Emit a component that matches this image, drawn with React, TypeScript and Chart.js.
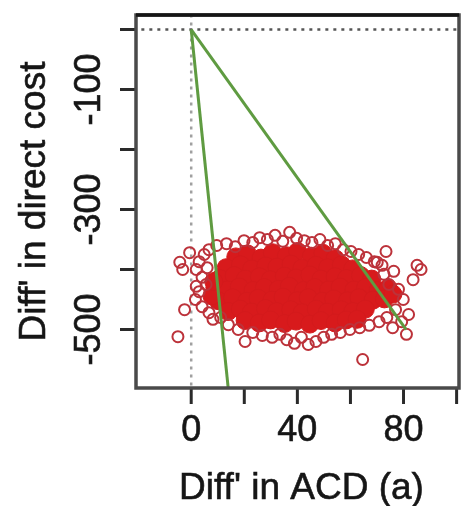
import React, { useEffect, useRef } from "react";
import { Chart, registerables } from "chart.js";

Chart.register(...registerables);

// ---- axis definitions ----
const xTicks = [0, 20, 40, 60, 80, 100];
const xTickLabels = ["0", "", "40", "", "80", ""];
const yTicks = [0, -100, -200, -300, -400, -500];
const yTickLabels = ["", "-100", "", "-300", "", "-500"];
const xTitle = "Diff' in ACD (a)";
const yTitle = "Diff' in direct cost";
const xRange = [-20.8, 100.9];
const yRange = [-597.5, 24.2];

// ---- dense centre of the simulated cloud (diff ACD, diff cost) ----
const coreAcd = [
  16.8, 21.2, 26.3, 30.6, 35.9, 40.1, 45.3, 49.6, 54.2,
  13.2, 18.6, 22.8, 28.1, 32.3, 37.6, 41.7, 47.0, 51.4, 56.6, 60.8,
  10.8, 16.2, 20.4, 25.7, 29.8, 35.1, 39.5, 44.7, 48.9, 54.2, 58.5, 63.8, 68.0,
  8.9, 13.7, 18.1, 23.3, 27.6, 32.8, 37.0, 42.3, 46.6, 51.8, 56.1, 61.3, 65.7, 70.4, 74.2,
  10.2, 15.6, 20.9, 25.2, 30.4, 34.6, 39.9, 44.1, 49.4, 53.7, 58.9, 63.2, 68.5, 72.8,
  13.9, 18.5, 22.7, 28.0, 32.2, 37.5, 41.8, 47.1, 51.3, 56.5, 60.9, 65.6,
  20.3, 25.6, 29.9, 35.2, 39.5, 44.7, 48.9, 54.2, 58.4, 62.5,
  76.0, 7.8, 8.5,
];
const coreCost = [
  -379, -374, -381, -372, -377, -370, -378, -373, -382,
  -397, -392, -399, -394, -396, -391, -398, -393, -397, -392, -399,
  -415, -410, -416, -412, -417, -411, -414, -409, -416, -412, -415, -410, -416,
  -430, -434, -429, -435, -430, -433, -428, -435, -430, -434, -429, -434, -430, -435, -431,
  -452, -447, -453, -448, -451, -446, -452, -447, -453, -449, -452, -447, -451, -449,
  -470, -466, -471, -465, -470, -467, -472, -466, -471, -467, -470, -466,
  -485, -489, -484, -490, -486, -491, -485, -489, -484, -483,
  -441, -444, -420,
];

// ---- sparser edge of the cloud and outliers ----
const edgeAcd = [
  6.7, 9.6, 13.3, 16.6, 19.9, 23.2, 25.8, 28.7, 31.6, 34.5, 37.1, 39.7, 42.6, 45.5, 48.5,
  51.4, 54.3, 57.3, 60.2, 63.1, 66.0, 69.0, 71.9,
  70.1, 73.4, 76.3, 74.5, 78.1, 79.9, 77.0, 81.9, 79.3, 81.1, 75.9, 83.6, 86.6, 85.1, 72.6,
  11.1, 14.0, 17.7, 20.3, 23.2, 26.8, 30.5, 33.4, 36.0, 38.9, 41.5, 44.1, 47.0, 49.9, 52.9,
  56.2, 59.8, 63.5, 67.1, 70.8, 73.7,
  4.9, 3.0, 1.9, 4.1, 5.6, 3.0, 1.6, 4.1, 6.7, 8.2, 6.0,
  -0.6, -3.2, -4.3, 1.9, -2.5, -5.0,
  64.6,
];
const edgeCost = [
  -367, -360, -357, -362, -352, -355, -347, -350, -343, -353, -338, -348, -352, -355, -350,
  -360, -357, -367, -370, -375, -380, -387, -393,
  -388, -370, -403, -425, -433, -450, -467, -475, -487, -508, -497, -417, -400, -393, -408,
  -480, -492, -500, -520, -505, -510, -513, -508, -517, -523, -513, -525, -520, -513, -508,
  -505, -500, -497, -493, -487, -480,
  -375, -387, -400, -413, -425, -437, -450, -462, -472, -483, -397,
  -372, -400, -388, -428, -467, -512,
  -550,
];

// ---- reference lines from the origin ----
const lineA_Acd = [0, 14];
const lineA_Cost = [0, -600];
const lineB_Acd = [0, 81];
const lineB_Cost = [0, -500];

const pairs = (xs: number[], ys: number[]) => xs.map((x, i) => ({ x, y: ys[i] }));

const FONT = '"Liberation Sans", Arial, Helvetica, sans-serif';

export default function App() {
  const ref = useRef<HTMLCanvasElement>(null);

  useEffect(() => {
    const canvas = ref.current;
    if (!canvas) return;

    const drawText = (ctx: any, t: string, x: number, y: number) => {
      ctx.fillText(t, x, y);
      ctx.strokeText(t, x, y);
    };

    const axesPlugin = {
      id: "rStyleAxes",
      afterDraw(chart: any) {
        const { ctx, chartArea: a, scales } = chart;
        const xs = scales.x;
        const ys = scales.y;
        ctx.save();
        // tick marks
        ctx.strokeStyle = "#2a2a2a";
        ctx.lineWidth = 3;
        yTicks.forEach((v) => {
          const py = ys.getPixelForValue(v);
          ctx.beginPath();
          ctx.moveTo(a.left - 16, py);
          ctx.lineTo(a.left, py);
          ctx.stroke();
        });
        xTicks.forEach((v) => {
          const px = xs.getPixelForValue(v);
          ctx.beginPath();
          ctx.moveTo(px, a.bottom);
          ctx.lineTo(px, a.bottom + 16);
          ctx.stroke();
        });
        // box
        ctx.strokeStyle = "#4a4a4a";
        ctx.lineWidth = 3.5;
        ctx.strokeRect(a.left, a.top, a.right - a.left, a.bottom - a.top);
        ctx.strokeStyle = "#151515";
        ctx.beginPath();
        ctx.moveTo(a.left, a.top);
        ctx.lineTo(a.right, a.top);
        ctx.stroke();
        // tick labels
        ctx.fillStyle = "#161616";
        ctx.strokeStyle = "#161616";
        ctx.lineWidth = 0.6;
        ctx.font = `36px ${FONT}`;
        ctx.textAlign = "center";
        ctx.textBaseline = "alphabetic";
        xTicks.forEach((v, i) => {
          if (!xTickLabels[i]) return;
          drawText(ctx, xTickLabels[i], xs.getPixelForValue(v), a.bottom + 53);
        });
        yTicks.forEach((v, i) => {
          if (!yTickLabels[i]) return;
          ctx.save();
          ctx.translate(a.left - 36, ys.getPixelForValue(v));
          ctx.rotate(-Math.PI / 2);
          drawText(ctx, yTickLabels[i], 0, 0);
          ctx.restore();
        });
        // axis titles
        ctx.font = `37px ${FONT}`;
        drawText(ctx, xTitle, (a.left + a.right) / 2 + 4, a.bottom + 111);
        ctx.save();
        ctx.translate(45, (a.top + a.bottom) / 2);
        ctx.rotate(-Math.PI / 2);
        drawText(ctx, yTitle, 0, 0);
        ctx.restore();
        ctx.restore();
      },
    };

    const chart = new Chart(canvas, {
      type: "scatter",
      data: {
        datasets: [
          {
            label: "threshold A",
            data: pairs(lineA_Acd, lineA_Cost),
            showLine: true,
            borderColor: "rgb(95,155,65)",
            borderWidth: 3,
            pointRadius: 0,
            order: 0,
          },
          {
            label: "threshold B",
            data: pairs(lineB_Acd, lineB_Cost),
            showLine: true,
            borderColor: "rgb(95,155,65)",
            borderWidth: 3,
            pointRadius: 0,
            order: 0,
          },
          {
            label: "edge",
            data: pairs(edgeAcd, edgeCost),
            pointRadius: 5.5,
            pointBorderWidth: 2,
            pointBorderColor: "rgb(188,50,58)",
            pointBackgroundColor: "rgba(0,0,0,0)",
            order: 1,
          },
          {
            label: "core",
            data: pairs(coreAcd, coreCost),
            pointRadius: 9,
            pointBorderWidth: 1,
            pointBorderColor: "rgb(212,26,28)",
            pointBackgroundColor: "rgb(216,26,28)",
            order: 2,
          },
          {
            label: "zero cost",
            data: pairs([xRange[0] - 1, xRange[1] + 1], [0, 0]),
            showLine: true,
            borderColor: "#555555",
            borderWidth: 2.5,
            borderDash: [3, 5],
            pointRadius: 0,
            order: 3,
          },
          {
            label: "zero effect",
            data: pairs([0, 0], [yRange[1] + 1, yRange[0] - 1]),
            showLine: true,
            borderColor: "#a0a0a0",
            borderWidth: 2.5,
            borderDash: [3, 5],
            pointRadius: 0,
            order: 3,
          },
        ],
      },
      options: {
        animation: false,
        responsive: true,
        maintainAspectRatio: false,
        events: [],
        layout: { padding: { top: 15, right: 3, left: 0, bottom: 0 } },
        plugins: { legend: { display: false }, tooltip: { enabled: false } },
        scales: {
          x: {
            type: "linear",
            min: xRange[0],
            max: xRange[1],
            ticks: { display: false },
            grid: { display: false },
            border: { display: false },
            afterFit: (s: any) => {
              s.height = 118;
            },
          },
          y: {
            type: "linear",
            min: yRange[0],
            max: yRange[1],
            ticks: { display: false },
            grid: { display: false },
            border: { display: false },
            afterFit: (s: any) => {
              s.width = 136;
            },
          },
        },
      },
      plugins: [axesPlugin],
    });

    return () => chart.destroy();
  }, []);

  return (
    <div style={{ position: "fixed", left: 0, top: 0, width: 469, height: 506, background: "#fff" }}>
      <canvas ref={ref} />
    </div>
  );
}
